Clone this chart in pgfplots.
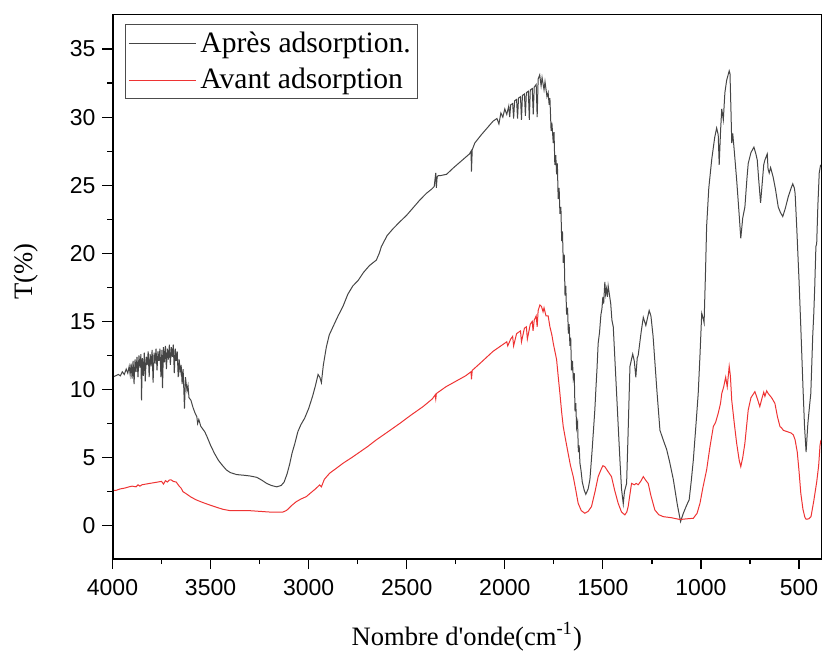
\documentclass[border=0pt]{standalone}
\usepackage{fontspec}
\setmainfont{Liberation Serif}
\setsansfont{Liberation Sans}
\newfontfamily\plainserif{Liberation Serif}
\usepackage{pgfplots}
\pgfplotsset{compat=1.18}
\definecolor{cblack}{HTML}{454545}
\definecolor{cred}{HTML}{EE3333}
\begin{document}
\begin{tikzpicture}
\begin{axis}[
 scale only axis, width=354.25pt, height=272pt,
 x dir=reverse, xmin=388, xmax=4000, ymin=-2.45, ymax=37.5,
 xtick={500,1000,...,4000}, ytick={0,5,...,35},
 minor x tick num=1, minor y tick num=1,
 tick align=outside, xtick pos=bottom, ytick pos=left,
 major tick length=5pt, minor tick length=2.5pt,
 tick style={black, line width=0.6pt},
 axis line style={line width=0.5pt},
 /pgf/number format/assume math mode=true,
 /pgf/number format/set thousands separator={},
 ticklabel style={font=\sffamily\fontsize{11.5}{13}\selectfont},
 xticklabel style={yshift=-1.7pt},
 every axis x label/.style={at={(axis description cs:0.5,0)}, anchor=base, yshift=-43pt, font=\plainserif\fontsize{13.3}{15}\selectfont},
 xlabel={Nombre d'onde(cm\textsuperscript{-1})},
 legend style={at={(axis description cs:0.0176,0.983)}, anchor=north west, draw=black!70, line width=0.5pt, font=\fontsize{14.8}{17}\selectfont, inner sep=1.5pt, row sep=2.5pt},
 legend cell align=left,
 legend image code/.code={\draw[#1] (-1pt,0pt) -- (32.5pt,0pt);},
]
\coordinate (bl) at (axis description cs:0,0);
\coordinate (tr) at (axis description cs:1,1);
\coordinate (yl) at (axis description cs:0,0.529);
\addplot[cblack, line width=0.5pt] coordinates {
(4000,10.9) (3985,11.0) (3970,11.1) (3960,11.0) (3950,11.3) (3940,11.1) (3930,11.5) (3922,11.2) (3915,11.7) (3910,11.1)
(3905,11.9) (3900,10.8) (3895,12.1) (3890,10.4) (3885,12.2) (3880,11.3) (3875,12.4) (3870,10.9) (3865,12.5) (3860,11.6)
(3855,12.6) (3852,9.2) (3848,12.3) (3843,11.0) (3838,12.7) (3833,10.6) (3828,12.4) (3823,11.8) (3818,12.8) (3813,10.9)
(3808,12.6) (3803,11.7) (3798,12.9) (3793,10.5) (3788,12.7) (3783,11.9) (3778,13.0) (3773,11.4) (3768,12.8) (3763,12.1)
(3758,13.0) (3753,10.9) (3748,12.9) (3745,10.1) (3740,13.1) (3735,12.0) (3730,13.2) (3725,11.5) (3720,13.0) (3715,12.2)
(3710,13.3) (3705,11.8) (3700,13.1) (3695,12.4) (3690,13.3) (3685,11.2) (3680,13.0) (3675,12.1) (3670,12.8) (3665,10.9)
(3660,12.2) (3655,11.3) (3650,11.8) (3645,10.4) (3640,11.5) (3633,8.6) (3628,10.9) (3620,9.9) (3615,10.3) (3610,9.4)
(3600,9.2) (3590,8.7) (3580,8.3) (3570,8.0) (3566,7.5) (3560,7.8) (3550,7.3) (3540,7.1) (3530,6.9) (3520,6.6)
(3500,5.9) (3480,5.3) (3460,4.8) (3444,4.5) (3420,4.1) (3400,3.9) (3367,3.75) (3330,3.7) (3300,3.65) (3265,3.55)
(3240,3.35) (3214,3.1) (3190,2.95) (3163,2.85) (3140,2.95) (3125,3.2) (3110,3.8) (3097,4.5) (3085,5.3) (3071,6.0)
(3055,6.9) (3040,7.4) (3020,7.9) (3000,8.6) (2980,9.5) (2965,10.3) (2952,11.1) (2943,10.9) (2935,10.5) (2925,11.8)
(2910,13.1) (2895,14.0) (2876,14.6) (2850,15.4) (2825,16.1) (2800,17.0) (2775,17.6) (2748,18.0) (2720,18.6) (2690,19.1)
(2655,19.5) (2640,20.0) (2629,20.5) (2600,21.3) (2570,21.8) (2536,22.3) (2500,22.8) (2470,23.3) (2434,23.9) (2400,24.4)
(2374,24.7) (2360,24.9) (2352,25.9) (2349,24.8) (2345,25.6) (2340,25.7) (2330,25.7) (2297,25.8) (2260,26.3) (2220,26.8)
(2180,27.3) (2172,27.5) (2170,26.0) (2166,27.6) (2153,28.1) (2120,28.7) (2090,29.2) (2060,29.7) (2040,29.9) (2030,29.5)
(2020,30.3) (2010,30.0) (2000,30.6) (1990,30.2) (1980,30.8) (1975,30.0) (1970,30.9) (1960,31.0) (1955,29.9) (1950,31.2)
(1940,31.3) (1935,29.9) (1930,31.4) (1920,31.5) (1915,29.8) (1910,31.6) (1900,31.7) (1895,30.1) (1890,31.8) (1880,31.9)
(1875,29.8) (1870,32.0) (1860,32.1) (1855,30.2) (1850,32.2) (1840,32.4) (1835,30.0) (1830,32.8) (1822,33.1) (1815,32.3)
(1810,32.9) (1800,32.0) (1795,32.6) (1785,31.5) (1779,31.8) (1774,30.9) (1770,31.4) (1764,29.0) (1760,29.6) (1753,28.1)
(1749,28.9) (1745,26.5) (1740,27.2) (1736,25.8) (1732,26.6) (1728,24.0) (1723,24.8) (1719,22.9) (1714,23.4) (1710,20.9)
(1706,21.6) (1702,19.3) (1697,19.9) (1693,16.9) (1689,17.6) (1685,15.5) (1680,16.0) (1676,14.1) (1672,14.8) (1668,13.2)
(1664,13.8) (1660,11.4) (1655,12.1) (1651,10.8) (1646,11.2) (1642,8.4) (1638,9.0) (1634,7.2) (1629,7.6) (1625,5.4)
(1621,5.9) (1617,4.6) (1611,4.0) (1605,3.2) (1595,2.6) (1587,2.3) (1575,2.7) (1566,3.4) (1555,5.5)
(1541,8.5) (1535,10.2) (1530,11.5) (1524,13.4) (1517,14.2) (1510,15.5) (1505,15.9) (1500,16.8) (1496,16.3) (1490,17.9)
(1486,17.0) (1482,17.4) (1477,16.8) (1473,17.6) (1466,16.9) (1460,16.3) (1454,15.1) (1447,14.6) (1438,12.0) (1430,9.7) (1420,6.8) (1413,4.8) (1405,2.7) (1396,1.6) (1390,2.5) (1379,3.1) (1372,6.5) (1362,11.7)
(1348,12.6) (1340,12.1) (1332,10.9) (1325,12.3) (1320,12.5) (1305,14.2) (1294,15.3) (1281,14.7) (1264,15.8) (1255,15.4)
(1244,13.9) (1225,10.0) (1209,7.0) (1190,6.2) (1175,5.6) (1160,4.7) (1141,3.4) (1120,1.5) (1104,0.3) (1090,0.9)
(1073,1.5) (1060,1.9) (1050,3.2) (1039,4.8) (1025,7.5) (1014,9.7) (1005,12.5) (996,15.6) (990,15.3) (984,14.9)
(977,18.5) (971,22.0) (960,24.8) (945,26.9) (930,28.5) (920,29.2) (912,28.7) (907,26.5) (900,29.0) (894,30.6)
(886,29.8) (878,31.8) (869,32.7) (856,33.4) (852,33.2) (847,30.5) (843,28.1) (838,28.8) (830,27.5) (818,25.4)
(805,22.8) (797,21.1) (787,22.6) (776,23.4) (765,25.6) (759,26.6) (745,27.4) (730,27.8) (720,27.3) (713,26.85)
(705,25.3) (696,23.7) (688,25.1) (680,26.5) (674,26.85) (662,27.3) (658,26.2) (652,25.9) (645,26.3) (632,25.6)
(620,24.7) (606,23.4) (595,23.0) (583,22.7) (570,23.3) (555,24.15) (540,24.8) (532,25.1) (524,24.8) (520,24.4)
(512,22.0) (500,18.0) (491,14.6) (480,10.2) (472,7.3) (464,5.4) (455,7.5) (445,9.0) (440,9.7) (430,14.0)
(425,15.5) (420,17.5) (418,18.5) (414,20.5) (410,20.7) (404,23.5) (397,25.9) (390,26.5)
};
\addlegendentry{Après adsorption.}
\addplot[cred, line width=0.5pt] coordinates {
(4000,2.57) (3980,2.6) (3960,2.7) (3940,2.75) (3913,2.86) (3900,2.9) (3880,2.85) (3870,3.0) (3860,2.9) (3850,3.0)
(3811,3.1) (3790,3.15) (3770,3.2) (3750,3.25) (3740,3.05) (3730,3.3) (3720,3.2) (3710,3.35) (3701,3.36) (3690,3.25)
(3675,3.2) (3660,2.9) (3650,2.75) (3641,2.5) (3620,2.3) (3600,2.1) (3573,1.89) (3540,1.7) (3505,1.52) (3470,1.35)
(3437,1.2) (3400,1.1) (3350,1.1) (3301,1.1) (3250,1.05) (3200,1.0) (3131,1.0) (3115,1.1) (3106,1.2) (3085,1.5)
(3063,1.76) (3040,1.95) (3012,2.13) (2990,2.4) (2965,2.7) (2944,2.99) (2935,2.85) (2920,3.4) (2893,3.85) (2860,4.2)
(2825,4.58) (2780,5.0) (2740,5.4) (2700,5.8) (2655,6.3) (2600,6.85) (2536,7.5) (2480,8.1) (2417,8.74) (2370,9.3)
(2355,9.6) (2352,9.3) (2349,9.7) (2300,10.2) (2250,10.6) (2200,11.0) (2172,11.3) (2170,10.75) (2166,11.4) (2120,12.0)
(2060,12.8) (2000,13.4) (1990,13.5) (1985,13.2) (1970,13.7) (1960,13.9) (1955,13.2) (1940,14.1) (1920,14.3) (1915,13.5)
(1900,14.5) (1890,14.6) (1885,13.7) (1870,14.8) (1860,15.0) (1856,14.3) (1850,15.1) (1840,15.4) (1835,14.6) (1830,15.8)
(1821,16.2) (1813,16.1) (1805,15.7) (1800,16.0) (1790,15.4) (1779,15.4) (1770,14.6) (1760,14.0) (1753,13.4) (1736,12.2)
(1728,11.0) (1719,9.7) (1710,8.3) (1702,7.27) (1690,6.3) (1677,5.3) (1665,4.4) (1651,3.6) (1638,2.6) (1626,1.64)
(1610,1.1) (1592,0.91) (1575,1.05) (1558,1.4) (1540,2.5) (1524,3.6) (1510,4.1) (1500,4.4) (1490,4.33) (1475,4.0)
(1456,3.6) (1440,2.6) (1422,1.64) (1405,1.0) (1388,0.79) (1378,1.0) (1371,1.4) (1362,2.3) (1354,3.1) (1340,3.0)
(1330,3.1) (1320,3.0) (1305,3.3) (1294,3.6) (1280,3.3) (1269,3.1) (1255,2.2) (1235,1.15) (1215,0.8) (1192,0.66)
(1150,0.58) (1107,0.45) (1073,0.5) (1039,0.54) (1020,0.9) (1005,1.64) (990,2.8) (971,4.1) (955,5.7) (937,7.27)
(925,7.6) (912,8.25) (900,9.0) (894,9.7) (884,10.2) (874,10.9) (866,10.2) (856,11.7) (850,11.0) (843,9.2)
(830,7.5) (818,6.05) (805,4.8) (797,4.33) (787,5.0) (776,6.05) (759,8.5) (745,9.4) (725,9.84) (712,9.3)
(700,8.74) (688,9.4) (680,9.8) (674,9.5) (665,9.9) (657,9.7) (640,9.4) (623,8.98) (610,8.0) (597,7.27)
(590,7.2) (580,7.0) (560,6.9) (540,6.8) (529,6.66) (520,6.3) (509,5.4) (500,4.0) (491,2.38) (480,1.2)
(470,0.6) (464,0.47) (450,0.5) (439,0.66) (425,1.8) (410,3.2) (400,4.4) (393,5.9) (388,6.3)
};
\addlegendentry{Avant adsorption}
\end{axis}
\draw[black, line width=1pt] (tr -| bl) -- (bl) -- (bl -| tr);
\node[rotate=90, anchor=base, font=\fontsize{13.3}{15}\selectfont] at ([xshift=-39.75pt]yl) {T(\%)};
\pgfresetboundingbox
\path[use as bounding box] ([shift={(-56.25pt,-47pt)}]bl) rectangle ([shift={(1pt,7.5pt)}]tr);
\end{tikzpicture}
\end{document}
